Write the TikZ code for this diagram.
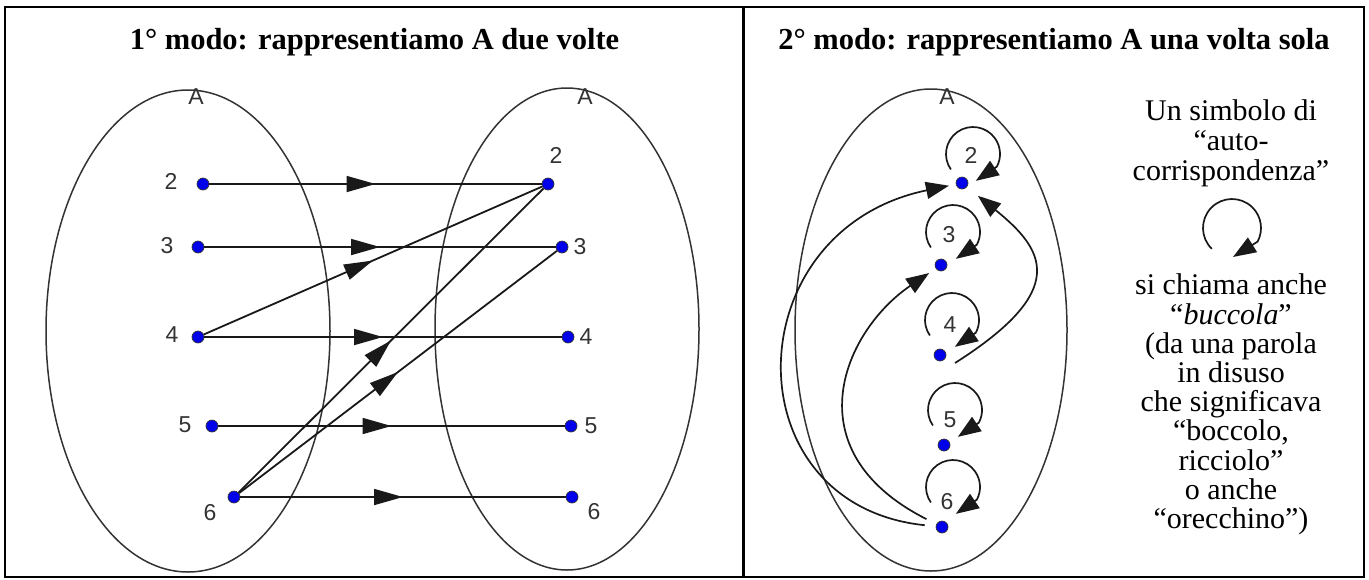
\documentclass[tikz,border=0pt]{standalone}
\usepackage{fontspec}
\setmainfont{Liberation Serif}
\newfontfamily\geofont{Liberation Sans}
\usetikzlibrary{arrows.meta,decorations.markings,calc}
\definecolor{dotblue}{RGB}{0,0,235}

\begin{document}
\begin{tikzpicture}[x=1pt,y=-1pt,
  frame/.style={line width=2.6pt},
  setA/.style={draw=black!80,line width=1.5pt},
  dot/.style={circle,draw=black!80,line width=0.7pt,fill=dotblue,inner sep=0pt,minimum size=12pt},
  num/.style={font=\geofont\fontsize{23}{25}\selectfont,text=black!80,inner sep=0pt},
  title/.style={font=\fontsize{30.5}{36}\selectfont\bfseries,anchor=base,inner sep=0pt},
  note/.style={align=center,inner sep=0pt},
  maparrow/.style={draw=black!90,line width=1.8pt,postaction={decorate},
    decoration={markings,mark=at position 0.5 with {\arrow{Triangle[length=29pt,width=16pt]}}}},
  selfarrow/.style={draw=black!90,line width=1.7pt,-{Triangle[length=23pt,width=17pt]}}]
\useasboundingbox (0,0) rectangle (1369,579);
\draw[frame] (5,7) rectangle (1364,577);
\draw[frame] (743.5,7) -- (743.5,577);
\node[title] (t1) at (374.5,49) {1° modo: rappresentiamo A due volte};
\node[title] (t2) at (1054,49) {2° modo: rappresentiamo A una volta sola};
% 1st way: A drawn twice
\draw[setA] (188,331) ellipse[x radius=142,y radius=241];
\draw[setA] (567,329) ellipse[x radius=132,y radius=241];
\node[num] (aL) at (196,97) {A};
\node[num] (aR) at (585,97) {A};
\foreach \n/\x/\y in {2/203/184,3/198/247,4/198/337,5/212/426,6/234/497}
  \node[dot] (l\n) at (\x,\y) {};
\foreach \n/\x/\y in {2/548/184,3/562/247,4/568/337,5/571/426,6/572/497}
  \node[dot] (r\n) at (\x,\y) {};
\node[num] at (171,181) {2};
\node[num] at (167,246) {3};
\node[num] at (172,335) {4};
\node[num] at (185,425) {5};
\node[num] at (210,513) {6};
\node[num] at (556,155) {2};
\node[num] at (580,247) {3};
\node[num] at (586,337) {4};
\node[num] at (591,426) {5};
\node[num] at (594,512) {6};
\foreach \a/\b in {2/2,3/3,4/4,5/5,6/6,4/2,6/2,6/3}
  \draw[maparrow] (l\a) -- (r\b);
% 2nd way: A drawn once
\draw[setA] (931,330) ellipse[x radius=136,y radius=241];
\node[num] (aS) at (947,97) {A};
\foreach \n/\x/\y in {2/962/183,3/941/265,4/940/355,5/944/445,6/942/527}
  \node[dot] (p\n) at (\x,\y) {};
\foreach \n/\ox/\oy/\nx/\ny in {2/11/-29/9/-28,3/12/-33/8/-30,4/12/-35/10/-30,5/11/-35/6/-25,6/11/-40/5/-25}{
  \node[num] (q\n) at ($(p\n)+(\nx,\ny)$) {\n};
  \coordinate (c\n) at ($(p\n)+(\ox,\oy)$);
  \draw[selfarrow] (c\n) ++(145:27) arc[start angle=145,end angle=388,radius=27] -- ($(c\n)+(84:27)$);
}
\coordinate (s42) at ($(p4)+(15,8)$);
\draw[selfarrow,shorten <=11pt,shorten >=7pt] (p6) .. controls (730,505) and (735,230) .. (p2);
\draw[selfarrow,shorten <=11pt,shorten >=8pt] (p6) .. controls (790,450) and (845,330) .. (p3);
\draw[selfarrow,shorten >=14pt] (s42) .. controls (1070,290) and (1045,250) .. (p2);
\node[note,font=\fontsize{30}{30}\selectfont] (txt1) at (1231,143) {Un simbolo di\\“auto-\\corrispondenza”};
\coordinate (sym) at (1232,228);
\draw[selfarrow] (sym) ++(134:29) arc[start angle=134,end angle=388,radius=29] -- ($(sym)+(88:29)$);
\node[note,font=\fontsize{30}{29.2}\selectfont] (txt2) at (1231,404.5) {si chiama anche\\“\textit{buccola}”\\(da una parola\\in disuso\\che significava\\“boccolo,\\ricciolo”\\o anche\\“orecchino”)};
\end{tikzpicture}
\end{document}
